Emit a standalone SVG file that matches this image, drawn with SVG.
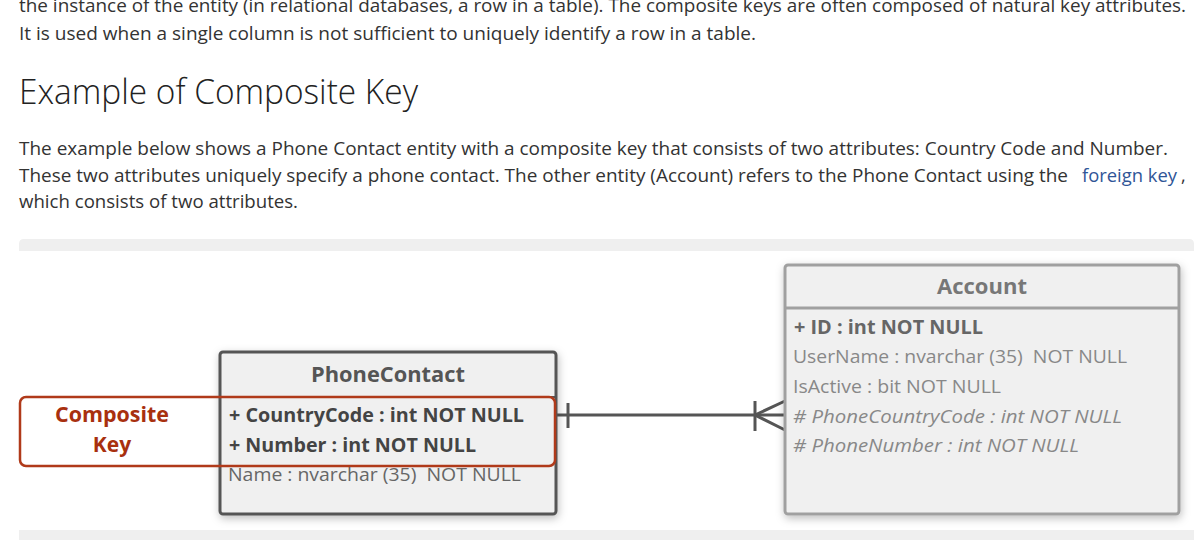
<svg xmlns="http://www.w3.org/2000/svg" width="1198" height="540" viewBox="0 0 1198 540">
<defs>
<filter id="sh" x="-10%" y="-10%" width="120%" height="125%">
<feDropShadow dx="1" dy="3" stdDeviation="4" flood-color="#000" flood-opacity="0.25"/>
</filter>
</defs>
<style>
.body{font-family:"Open Sans","Noto Sans","Liberation Sans",sans-serif;font-size:18px;fill:#333;white-space:pre}
.link{fill:#2f5597}
.head{font-family:"Open Sans","Noto Sans","Liberation Sans",sans-serif;font-size:34px;font-weight:300;fill:#222}
.ent{font-family:"Open Sans","Noto Sans","Liberation Sans",sans-serif;font-size:19px;white-space:pre}
.title{font-weight:bold;font-size:21px;text-anchor:middle}
.b{font-weight:bold}
.i{font-style:italic}
.band{fill:#efefef}
.conn{stroke:#555;stroke-width:3;fill:none}
.red{font-family:"Open Sans","Noto Sans","Liberation Sans",sans-serif;font-size:21px;font-weight:bold;fill:#a8300f;text-anchor:middle}
</style>
<rect width="1198" height="540" fill="#fff"/>
<text class="body" x="19" y="12" textLength="1167" lengthAdjust="spacingAndGlyphs">the instance of the entity (in relational databases, a row in a table). The composite keys are often composed of natural key attributes.</text>
<text class="body" x="19" y="40" textLength="737" lengthAdjust="spacingAndGlyphs">It is used when a single column is not sufficient to uniquely identify a row in a table.</text>
<text class="head" x="19" y="104" textLength="399" lengthAdjust="spacingAndGlyphs">Example of Composite Key</text>
<text class="body" x="19" y="155" textLength="1149" lengthAdjust="spacingAndGlyphs">The example below shows a Phone Contact entity with a composite key that consists of two attributes: Country Code and Number.</text>
<text class="body" x="19" y="182" textLength="1049" lengthAdjust="spacingAndGlyphs">These two attributes uniquely specify a phone contact. The other entity (Account) refers to the Phone Contact using the</text>
<text class="body link" x="1082" y="182" textLength="95" lengthAdjust="spacingAndGlyphs">foreign key</text>
<text class="body" x="1181" y="182">,</text>
<text class="body" x="19" y="208" textLength="279" lengthAdjust="spacingAndGlyphs">which consists of two attributes.</text>
<path class="band" d="M19,251 V244 Q19,239 24,239 H1189 Q1194,239 1194,244 V251 Z"/>
<rect class="band" x="19" y="530" width="1175" height="10"/>
<g id="connectors">
<line class="conn" x1="556" y1="415" x2="785" y2="415"/>
<line class="conn" x1="568" y1="403" x2="568" y2="428"/>
<line class="conn" x1="755" y1="401" x2="755" y2="431"/>
<path class="conn" d="M785,401 L755,415 L785,430"/>
</g>
<g id="node-phonecontact">
<rect x="220" y="352" width="336" height="162" rx="3" fill="#f0f0f0" stroke="#555" stroke-width="3" filter="url(#sh)"/>
<line x1="220" y1="397" x2="556" y2="397" stroke="#555" stroke-width="2"/>
<text class="ent title" x="388" y="382" fill="#555" textLength="154" lengthAdjust="spacingAndGlyphs">PhoneContact</text>
<text class="ent b" x="229" y="422" fill="#444" textLength="295" lengthAdjust="spacingAndGlyphs">+ CountryCode : int NOT NULL</text>
<text class="ent b" x="229" y="452" fill="#444" textLength="247" lengthAdjust="spacingAndGlyphs">+ Number : int NOT NULL</text>
<text class="ent" x="228" y="481" fill="#666" textLength="293" lengthAdjust="spacingAndGlyphs">Name : nvarchar (35)  NOT NULL</text>
</g>
<g id="node-account">
<rect x="785" y="265" width="394" height="249" rx="3" fill="#f0f0f0" stroke="#a0a0a0" stroke-width="3" filter="url(#sh)"/>
<line x1="785" y1="308" x2="1179" y2="308" stroke="#a0a0a0" stroke-width="3"/>
<text class="ent title" x="982" y="294" fill="#777" textLength="90" lengthAdjust="spacingAndGlyphs">Account</text>
<text class="ent b" x="794" y="334" fill="#666" textLength="189" lengthAdjust="spacingAndGlyphs">+ ID : int NOT NULL</text>
<text class="ent" x="793" y="363" fill="#888" textLength="334" lengthAdjust="spacingAndGlyphs">UserName : nvarchar (35)  NOT NULL</text>
<text class="ent" x="793" y="393" fill="#888" textLength="208" lengthAdjust="spacingAndGlyphs">IsActive : bit NOT NULL</text>
<text class="ent i" x="793" y="423" fill="#888" textLength="329" lengthAdjust="spacingAndGlyphs"># PhoneCountryCode : int NOT NULL</text>
<text class="ent i" x="793" y="452" fill="#888" textLength="286" lengthAdjust="spacingAndGlyphs"># PhoneNumber : int NOT NULL</text>
</g>
<g id="node-compositekey">
<rect x="20" y="397" width="535" height="69" rx="6" fill="none" stroke="#b03a1a" stroke-width="2.5"/>
<text class="red" x="112" y="422" textLength="114" lengthAdjust="spacingAndGlyphs">Composite</text>
<text class="red" x="112" y="452">Key</text>
</g>
</svg>
